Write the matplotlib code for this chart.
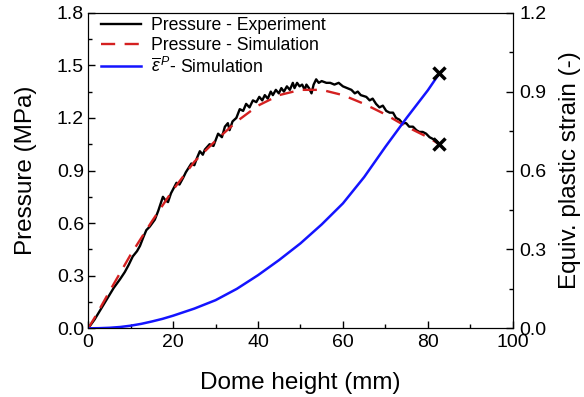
import matplotlib
matplotlib.use("Agg")
import matplotlib.pyplot as plt
from matplotlib.ticker import MultipleLocator

plt.rcParams['font.family'] = ['Liberation Sans', 'DejaVu Sans']
plt.rcParams['mathtext.fontset'] = 'custom'
plt.rcParams['mathtext.rm'] = 'Liberation Sans'
plt.rcParams['mathtext.it'] = 'Liberation Sans:italic'

# Pressure - experiment (dome height mm, MPa)
exp_h = [0, 1.5, 3, 4.5, 6, 7.5, 8.6, 9.5, 10.5, 11.5, 12.2, 13, 13.7, 14.5, 15.7,
         16.5, 17.6, 18.2, 18.8, 19.5, 20.8, 21.5, 22.4, 23, 24.3, 25, 25.6, 26.3,
         27, 27.5, 28.6, 29.5, 30.6, 31.5, 32.2, 32.9, 33.3, 34, 34.9, 35.7, 36.5,
         37.2, 38, 38.8, 39.6, 40.3, 41, 41.6, 42.3, 43, 43.5, 44.2, 44.9, 45.5,
         46.1, 46.8, 47.5, 48.2, 48.6, 49.2, 49.8, 50.4, 51, 51.4, 52, 52.6, 53.1,
         53.7, 54.3, 55, 56.1, 57, 58, 59, 60, 61, 62, 62.8, 63.5, 64.2, 65.5, 66.3,
         67, 67.8, 68.6, 69.4, 70.2, 71, 71.8, 72.5, 73.3, 74, 74.9, 75.6, 76.5,
         77.3, 78, 78.8, 79.6, 80.4, 81.2, 82.0, 82.7]
exp_p = [0, 0.05, 0.11, 0.17, 0.23, 0.28, 0.32, 0.36, 0.41, 0.44, 0.47, 0.52, 0.56,
         0.58, 0.62, 0.67, 0.75, 0.73, 0.72, 0.77, 0.83, 0.82, 0.86, 0.89, 0.94, 0.93,
         0.97, 1.01, 0.99, 1.02, 1.05, 1.04, 1.11, 1.09, 1.15, 1.17, 1.13, 1.18, 1.20,
         1.25, 1.24, 1.28, 1.26, 1.30, 1.29, 1.32, 1.30, 1.33, 1.31, 1.35, 1.33, 1.36,
         1.34, 1.37, 1.35, 1.38, 1.36, 1.40, 1.37, 1.40, 1.38, 1.39, 1.36, 1.39, 1.37,
         1.34, 1.39, 1.42, 1.40, 1.41, 1.40, 1.40, 1.39, 1.40, 1.38, 1.37, 1.36, 1.34,
         1.35, 1.33, 1.32, 1.30, 1.31, 1.28, 1.26, 1.27, 1.24, 1.23, 1.23, 1.20, 1.19,
         1.17, 1.17, 1.15, 1.15, 1.13, 1.12, 1.12, 1.11, 1.09, 1.08, 1.07, 1.05]

# Pressure - simulation
sim_h = [0, 2, 5, 10, 15, 20, 25, 30, 35, 40, 45, 50, 55, 60, 65, 70, 75, 80, 82.7]
sim_p = [0, 0.08, 0.21, 0.42, 0.61, 0.79, 0.95, 1.07, 1.18, 1.27, 1.33, 1.36, 1.36,
         1.33, 1.28, 1.22, 1.15, 1.09, 1.05]

# Equivalent plastic strain - simulation
eps_h = [0, 2.5, 5, 7.5, 10, 12.5, 15, 17.5, 20, 25, 30, 35, 40, 45, 50, 55, 60, 65,
         70, 75, 80, 82.7]
eps = [0, 0.0005, 0.002, 0.005, 0.01, 0.017, 0.026, 0.036, 0.048, 0.075, 0.107, 0.15,
       0.202, 0.26, 0.323, 0.395, 0.475, 0.575, 0.69, 0.80, 0.905, 0.969]

fig = plt.figure(figsize=(5.84, 3.97), dpi=100)
ax = fig.add_axes([0.151, 0.173, 0.727, 0.795])
ax2 = ax.twinx()

l1, = ax.plot(exp_h, exp_p, color='black', lw=1.7, label='Pressure - Experiment')
l2, = ax.plot(sim_h, sim_p, color='#d42020', lw=1.7, dashes=(6, 4),
              label='Pressure - Simulation')
ax.plot([exp_h[-1]], [exp_p[-1]], 'x', color='black', ms=8, mew=2.5)
l3, = ax2.plot(eps_h, eps, color='#1414ff', lw=1.8,
               label=r'$\overline{\varepsilon}^{\,P}$- Simulation')
ax2.plot([eps_h[-1]], [eps[-1]], 'x', color='black', ms=8, mew=2.5)

ax.set_xlim(0, 100)
ax.set_ylim(0, 1.8)
ax2.set_ylim(0, 1.2)
ax.xaxis.set_major_locator(MultipleLocator(20))
ax.xaxis.set_minor_locator(MultipleLocator(10))
ax.yaxis.set_major_locator(MultipleLocator(0.3))
ax.yaxis.set_minor_locator(MultipleLocator(0.15))
ax2.yaxis.set_major_locator(MultipleLocator(0.3))
ax2.yaxis.set_minor_locator(MultipleLocator(0.15))
ax.yaxis.set_major_formatter(plt.FormatStrFormatter('%.1f'))
ax2.yaxis.set_major_formatter(plt.FormatStrFormatter('%.1f'))

for a in (ax, ax2):
    a.tick_params(which='both', direction='in', labelsize=14)
    a.tick_params(which='major', length=5, width=1)
    a.tick_params(which='minor', length=3, width=1)
ax.tick_params(axis='y', which='both', right=False, pad=3)
ax.tick_params(axis='x', which='both', top=False, pad=4)
ax2.tick_params(axis='y', pad=5)

ax.set_xlabel('Dome height (mm)', fontsize=17.5, labelpad=15)
ax.set_ylabel('Pressure (MPa)', fontsize=17.5, labelpad=14)
ax2.set_ylabel('Equiv. plastic strain (-)', fontsize=17.5, labelpad=9)

ax.legend(handles=[l1, l2, l3], loc='upper left', frameon=False, fontsize=12.7,
          handlelength=2.3, handletextpad=0.55, labelspacing=0.15,
          borderaxespad=0.3, bbox_to_anchor=(0, 1.025))

fig.savefig('out.png', dpi=100)
